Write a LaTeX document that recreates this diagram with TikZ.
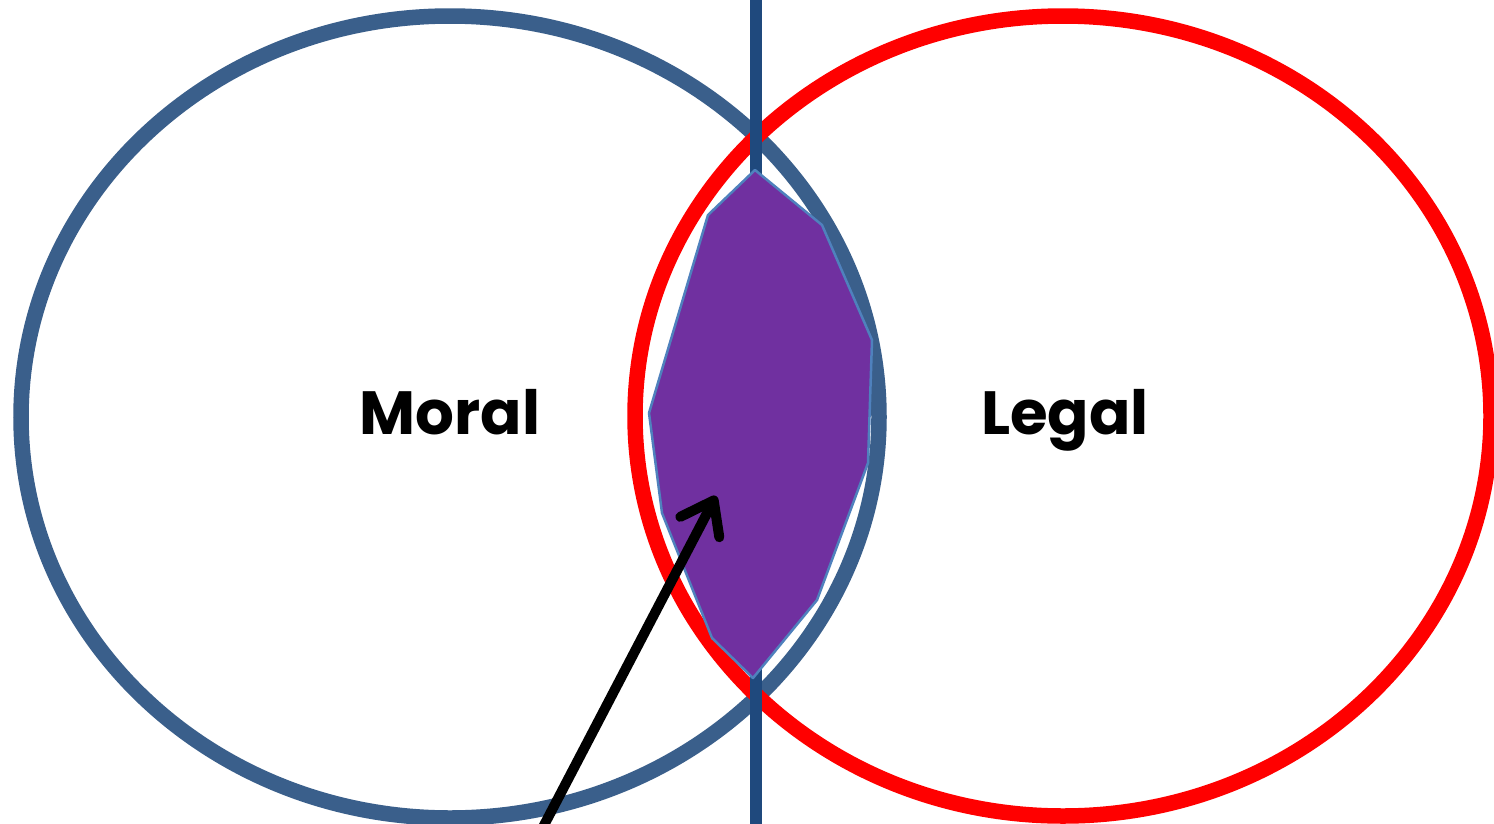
\documentclass[tikz,border=0pt]{standalone}
\usepackage{fontspec}
\setmainfont{Poppins}
\usetikzlibrary{arrows.meta}
\definecolor{moralblue}{RGB}{58,95,139}
\definecolor{axisblue}{RGB}{31,73,125}
\definecolor{lensviolet}{RGB}{112,48,160}
\definecolor{lensedge}{RGB}{79,129,189}
\tikzset{
  ring/.style={line width=15.5pt},
  label/.style={font=\fontsize{61}{70}\selectfont\bfseries, anchor=base, inner sep=0pt},
  pointer/.style={line width=10pt, line cap=round, -{Straight Barb[length=30pt,width=44pt,round]}}
}
\begin{document}
\begin{tikzpicture}[x=1pt,y=-1pt]
\useasboundingbox (0,0) rectangle (1494,823);
\fill[white] (0,0) rectangle (1494,823);
\draw[ring, moralblue] (450,417) ellipse [x radius=429, y radius=401];
\draw[ring, red] (1063,416) ellipse [x radius=428, y radius=400];
\coordinate (top) at (756,-5);
\coordinate (bot) at (756,830);
\draw[axisblue, line width=12pt] (top) -- (bot);
\filldraw[fill=lensviolet, draw=lensedge, line width=2.5pt, line join=round]
  (755,170) -- (822,225) -- (872,340) -- (868,463) -- (817,600) -- (753,678)
  -- (712,638) -- (662,513) -- (649,413) -- (708,215) -- cycle;
\node[label] (moral) at (450,434) {Moral};
\node[label] (legal) at (1065,434) {Legal};
\coordinate (tail) at (541,831);
\coordinate (tip) at (716,496);
\draw[pointer] (tail) -- (tip);
\end{tikzpicture}
\end{document}
